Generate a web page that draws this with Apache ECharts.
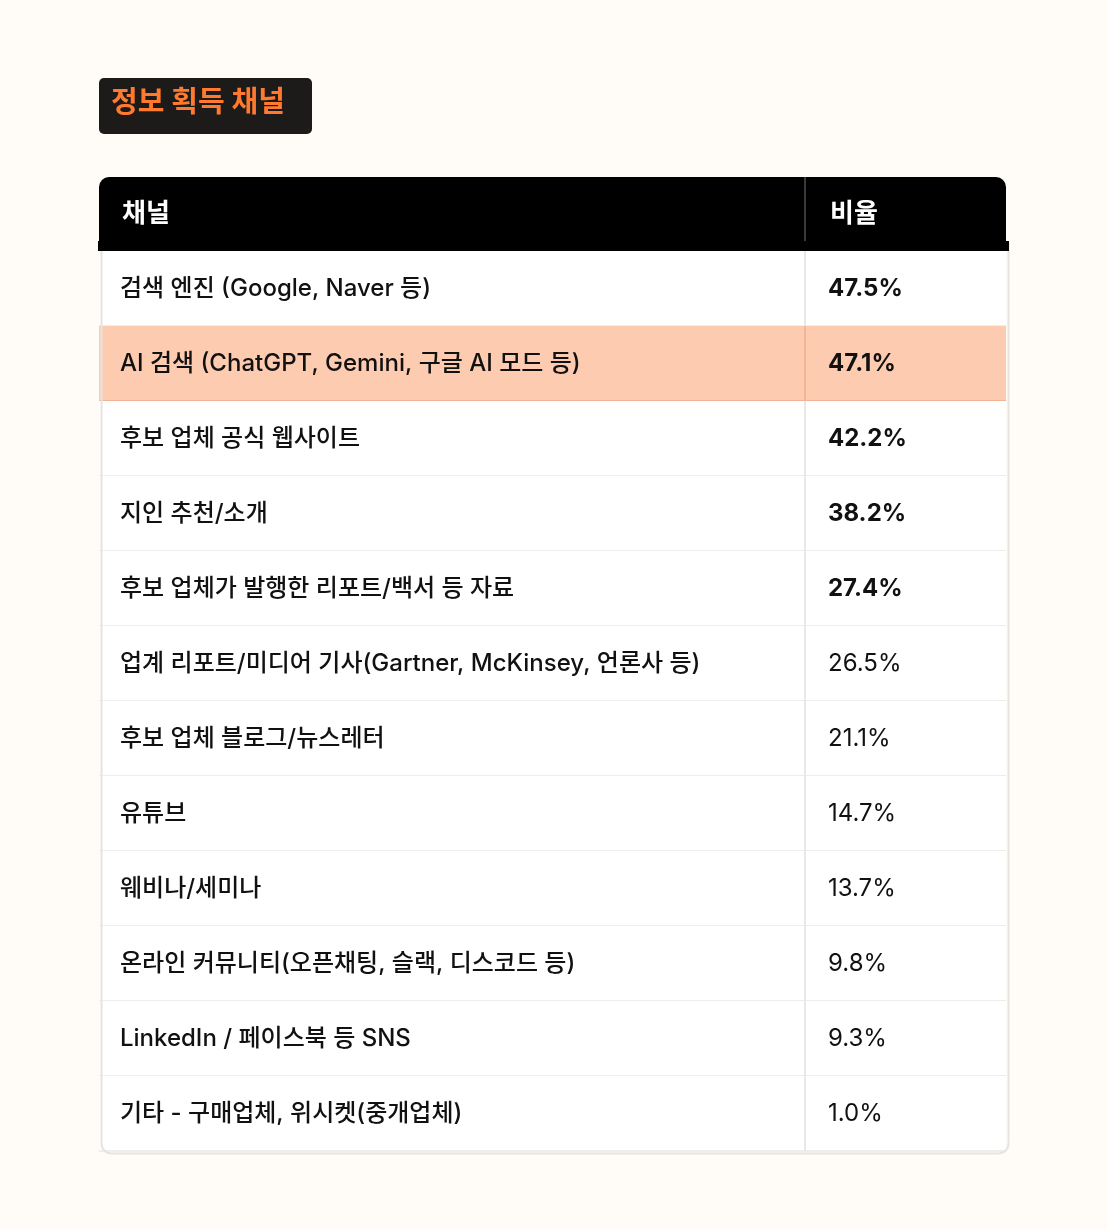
<!DOCTYPE html>
<html>
<head>
<meta charset="utf-8">
<script src="https://cdn.jsdelivr.net/npm/echarts@6/dist/echarts.min.js"></script>
<style>
  html, body { margin: 0; background: #FFFCF8; }
  #chart { width: 1107px; height: 1230px; }
</style>
</head>
<body>
<div id="chart"></div>
<script>
var title = '정보 획득 채널';
var headers = ['채널', '비율'];
var channels = [
  '검색 엔진 (Google, Naver 등)',
  'AI 검색 (ChatGPT, Gemini, 구글 AI 모드 등)',
  '후보 업체 공식 웹사이트',
  '지인 추천/소개',
  '후보 업체가 발행한 리포트/백서 등 자료',
  '업계 리포트/미디어 기사(Gartner, McKinsey, 언론사 등)',
  '후보 업체 블로그/뉴스레터',
  '유튜브',
  '웨비나/세미나',
  '온라인 커뮤니티(오픈채팅, 슬랙, 디스코드 등)',
  'LinkedIn / 페이스북 등 SNS',
  '기타 - 구매업체, 위시켓(중개업체)'
];
var shares = [47.5, 47.1, 42.2, 38.2, 27.4, 26.5, 21.1, 14.7, 13.7, 9.8, 9.3, 1.0];
var boldRows = 5;
var highlightRow = 1;

var font = 'Inter, "Noto Sans CJK KR", sans-serif';
var chart = echarts.init(document.getElementById('chart'));

// x position (fraction of table width) where the value column begins
var split = (805 - 99) / (1006 - 99);

chart.setOption({
  backgroundColor: '#FFFCF8',
  grid: { left: 99, right: 101, top: 251, bottom: 79 },
  xAxis: { type: 'value', min: 0, max: 1, show: false },
  yAxis: { type: 'category', inverse: true, data: channels, show: false },
  graphic: [
    { type: 'rect', left: 99, top: 78, shape: { width: 213, height: 56, r: 5 }, style: { fill: '#1C1B1A' } },
    { type: 'text', left: 111, top: 89, style: { text: title, fill: '#FF7A2E', font: 'bold 29px ' + font } },
    { type: 'rect', left: 99, top: 177, shape: { width: 907, height: 74, r: [10, 10, 0, 0] }, style: { fill: '#000' } },
    { type: 'rect', left: 804, top: 177, shape: { width: 2, height: 74 }, style: { fill: '#3a3a3a' } },
    { type: 'text', left: 122, top: 201, style: { text: headers[0], fill: '#fff', font: 'bold 26px ' + font } },
    { type: 'text', left: 830, top: 201, style: { text: headers[1], fill: '#fff', font: 'bold 26px ' + font } },
    { type: 'rect', left: 99, top: 240, z: 100, silent: true,
      shape: { width: 907, height: 911, r: [0, 0, 10, 10] }, style: { fill: 'none', stroke: '#E6E4E2', lineWidth: 2 } },
    { type: 'rect', left: 98, top: 241, z: 101, silent: true, shape: { width: 911, height: 10 }, style: { fill: '#000' } }
  ],
  series: [{
    type: 'custom',
    data: shares.map(function (v, i) { return [i, v]; }),
    renderItem: function (params, api) {
      var i = api.value(0);
      var c = api.coord([0, i]);
      var h = api.size([0, 1])[1];
      var w = api.coord([1, i])[0] - c[0];
      var top = c[1] - h / 2;
      var xs = c[0] + w * split;
      var bold = i < boldRows;
      return {
        type: 'group',
        children: [
          { type: 'rect', shape: { x: c[0], y: top, width: w, height: h },
            style: { fill: i === highlightRow ? '#FDCBB0' : '#FFFFFF' } },
          { type: 'rect', shape: { x: c[0], y: top + h - 1, width: w, height: 2 },
            style: { fill: i === highlightRow ? '#F0B596' : '#F0EEEC' } },
          { type: 'rect', shape: { x: xs - 1, y: top, width: 2, height: h },
            style: { fill: i === highlightRow ? '#F0B596' : '#EAE8E6' } },
          { type: 'text', x: c[0] + 21, y: c[1],
            style: { text: channels[i], fill: '#111', font: '500 24px ' + font, verticalAlign: 'middle' } },
          { type: 'text', x: xs + 23, y: c[1],
            style: { text: api.value(1).toFixed(1) + '%', fill: '#111',
              font: (bold ? 'bold ' : '') + '24px ' + font, verticalAlign: 'middle' } }
        ]
      };
    }
  }]
});
</script>
</body>
</html>
